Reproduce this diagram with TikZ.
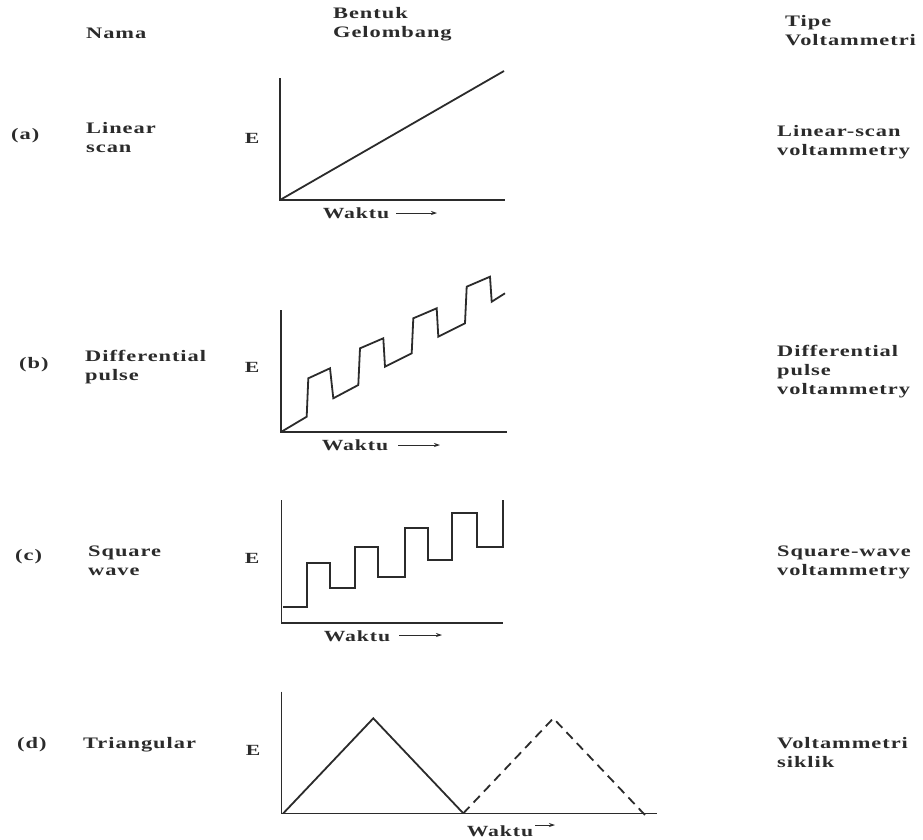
\documentclass[tikz,border=0pt]{standalone}
\usepackage{fontspec}
\setmainfont{Liberation Serif}[FakeStretch=1.4,LetterSpace=6]
\usetikzlibrary{arrows.meta}
\definecolor{ink}{HTML}{2B2B2B}
\begin{document}
\begin{tikzpicture}[x=1pt,y=-1pt,
  lbl/.style={anchor=west,align=left,inner sep=0pt,text=ink,font=\fontsize{16}{19}\selectfont\bfseries},
  axislbl/.style={inner sep=0pt,text=ink,font=\fontsize{15.5}{18}\selectfont\bfseries},
  axisline/.style={draw=ink,line width=1.1pt},
  wave/.style={draw=ink,line width=1.8pt,line join=miter},
  tarrow/.style={draw=ink,line width=0.8pt,-{Stealth[length=6pt,width=4pt]}}]
\useasboundingbox (0,0) rectangle (923,839);
\fill[white] (0,0) rectangle (923,839);
% headers
\node[lbl] (hnama) at (86,33) {Nama};
\node[lbl] (hbentuk) at (333,24) {Bentuk\\Gelombang};
\node[lbl] (htipe) at (785,31) {Tipe\\Voltammetri};
% row labels
\node[lbl] (la) at (11,136) {(a)};
\node[lbl] (na) at (86,138) {Linear\\scan};
\node[lbl] (ta) at (777,142) {Linear-scan\\voltammetry};
\node[lbl] (lb) at (19,365) {(b)};
\node[lbl] (nb) at (85,367) {Differential\\pulse};
\node[lbl] (tb) at (777,372) {Differential\\pulse\\voltammetry};
\node[lbl] (lc) at (15,557) {(c)};
\node[lbl] (nc) at (88,561) {Square\\wave};
\node[lbl] (tc) at (777,562) {Square-wave\\voltammetry};
\node[lbl] (ld) at (17,745) {(d)};
\node[lbl] (nd) at (83,745) {Triangular};
\node[lbl] (td) at (777,753) {Voltammetri\\siklik};
% ---- (a)
\coordinate (ao) at (280,200);
\draw[axisline] (280,78) -- (ao) -- (505,200);
\draw[wave] (ao) -- (504,71);
\node[axislbl] (ea) at (252,138) {E};
\node[axislbl] (wa) at (356,213) {Waktu};
\coordinate (wa1) at (396,213); \coordinate (wa2) at (437,213);
\draw[tarrow] (wa1) -- (wa2);
% ---- (b)
\coordinate (bo) at (281,432);
\draw[axisline] (281,310) -- (bo) -- (507,432);
\draw[wave] (bo) -- (306.7,416.7) -- (308.3,378.3) -- (330,368.3) -- (333.3,398.3)
  -- (358.3,385) -- (360,348.3) -- (383.3,338.3) -- (385,366.7) -- (411.7,353.3)
  -- (413.3,318.3) -- (436.7,308.3) -- (438.3,336.7) -- (465,323.3) -- (466.7,286.7)
  -- (490,276.7) -- (491.7,301.7) -- (505,293.3);
\node[axislbl] (eb) at (252,367) {E};
\node[axislbl] (wb) at (355,445) {Waktu};
\coordinate (wb1) at (398,445); \coordinate (wb2) at (440,445);
\draw[tarrow] (wb1) -- (wb2);
% ---- (c)
\coordinate (co) at (281.7,623);
\draw[axisline] (281.7,500) -- (co) -- (503,623);
\draw[wave] (283.3,606.7) -- (306.7,606.7) -- (306.7,563.3) -- (330,563.3) -- (330,588.3)
  -- (355,588.3) -- (355,546.7) -- (378.3,546.7) -- (378.3,576.7) -- (405,576.7)
  -- (405,528.3) -- (428.3,528.3) -- (428.3,560) -- (451.7,560) -- (451.7,513.3)
  -- (476.7,513.3) -- (476.7,546.7) -- (503.3,546.7) -- (503.3,500);
\node[axislbl] (ec) at (252,558) {E};
\node[axislbl] (wc) at (357,636) {Waktu};
\coordinate (wc1) at (399,635); \coordinate (wc2) at (442,635);
\draw[tarrow] (wc1) -- (wc2);
% ---- (d)
\coordinate (do) at (281.7,813.3);
\draw[axisline] (281.7,691.7) -- (do) -- (656.7,813.3);
\draw[wave] (283.3,813.3) -- (373.3,718.3) -- (463.3,813.3);
\draw[wave,dash pattern=on 9pt off 6pt] (463.3,813.3) -- (553.3,718.3) -- (645,815);
\node[axislbl] (ed) at (253,750) {E};
\node[axislbl] (wd) at (500,831) {Waktu};
\coordinate (wd1) at (535,825); \coordinate (wd2) at (555,825);
\draw[tarrow] (wd1) -- (wd2);
\end{tikzpicture}
\end{document}
